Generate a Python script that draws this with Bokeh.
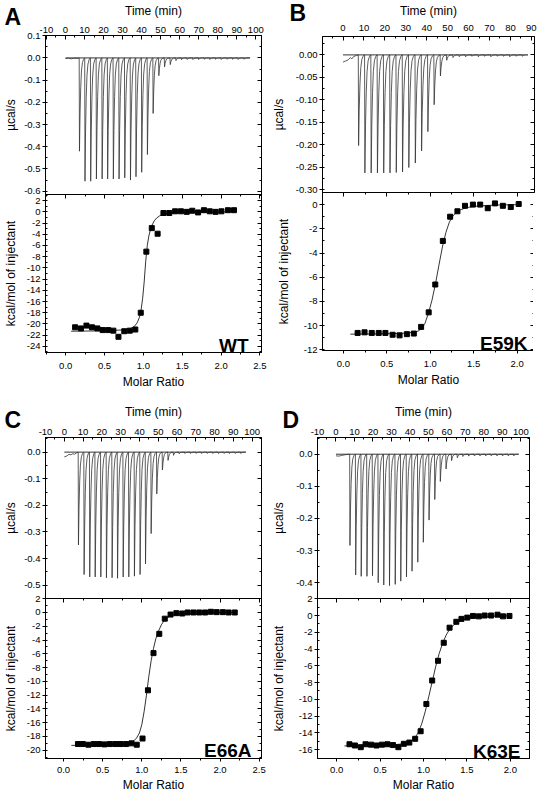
from bokeh.plotting import figure
from bokeh.models import LinearAxis, Range1d, SingleIntervalTicker, PrintfTickFormatter, Label, Title
from bokeh.layouts import column, row
from bokeh.embed import file_html
from bokeh.resources import INLINE

FONT = "Liberation Sans"

# ---------------- data ----------------
# common shape of one injection peak: time offsets (min) and fraction of the peak depth
SPIKE_DT = [0.0, 0.15, 0.45, 0.8, 1.2, 1.7, 2.3, 2.9]
SPIKE_FRAC = [0.0, 1.0, 0.6, 0.32, 0.14, 0.05, 0.015, 0.0]

# Panel A  (WT)
A_pre_time = [0.0, 1.5, 3.0, 4.5, 6.0]
A_pre_power = [-0.003, -0.001, -0.004, -0.001, -0.002]
A_inj_time = [7.2, 10.1, 13.1, 16.1, 19.1, 22.0, 25.0, 28.0, 31.0, 34.0, 36.9, 39.9, 42.9, 45.9, 48.9,
              51.9, 54.9, 57.9, 60.8, 63.8, 66.8, 69.8, 72.8, 75.7, 78.7, 81.7, 84.7, 87.7, 90.6, 93.6]
A_inj_peak = [-0.42, -0.555, -0.555, -0.545, -0.545, -0.545, -0.545, -0.545, -0.54, -0.55, -0.535, -0.515,
              -0.435, -0.25, -0.08, -0.04, -0.03, -0.012, -0.008, -0.007, -0.007, -0.007, -0.006, -0.007,
              -0.006, -0.007, -0.006, -0.006, -0.007, -0.006]
A_end_time = 97.0
A_ratio = [0.121, 0.196, 0.267, 0.338, 0.408, 0.475, 0.546, 0.613, 0.679, 0.754, 0.825, 0.896, 0.966, 1.038,
           1.108, 1.183, 1.258, 1.333, 1.408, 1.483, 1.558, 1.629, 1.704, 1.779, 1.854, 1.929, 2.004, 2.088, 2.166]
A_heat = [-20.6, -20.8, -20.3, -20.6, -20.8, -21.1, -21.1, -21.2, -22.3, -21.3, -21.2, -21.0, -18.0, -7.1,
          -2.9, -3.9, -0.2, -0.2, 0.1, 0.1, 0.0, 0.2, -0.1, 0.3, 0.1, 0.0, 0.1, 0.3, 0.3]
A_fit_ratio = [0.07, 0.4, 0.7, 0.82, 0.88, 0.92, 0.95, 0.97, 0.99, 1.01, 1.03, 1.05, 1.07, 1.09, 1.11, 1.14,
               1.17, 1.21, 1.25, 1.35, 1.5, 1.8, 2.17]
A_fit_heat = [-21.3, -21.25, -21.1, -20.9, -20.5, -19.8, -18.8, -17.5, -15.5, -12.5, -8.8, -6.0, -4.3, -3.2,
              -2.4, -1.6, -1.1, -0.7, -0.45, -0.22, -0.1, -0.03, 0.0]

# Panel B  (E59K)
B_pre_time = [0.0, 1.5, 2.5, 3.5, 4.2, 5.0, 6.5]
B_pre_power = [-0.016, -0.013, -0.011, -0.006, -0.009, -0.004, -0.001]
B_inj_time = [7.3, 10.3, 13.3, 16.3, 19.3, 22.3, 25.3, 28.3, 31.3, 34.4, 37.4, 40.4, 43.4, 46.4, 49.4, 52.4,
              55.4, 58.4, 61.4, 64.5, 67.5, 70.5, 73.5, 76.5, 79.5, 82.5, 85.5]
B_inj_peak = [-0.202, -0.263, -0.263, -0.263, -0.263, -0.263, -0.262, -0.261, -0.251, -0.241, -0.214, -0.171,
              -0.111, -0.047, -0.012, -0.006, -0.004, -0.004, -0.003, -0.004, -0.003, -0.004, -0.003, -0.003,
              -0.004, -0.003, -0.003]
B_end_time = 87.0
B_ratio = [0.164, 0.244, 0.327, 0.407, 0.484, 0.567, 0.647, 0.731, 0.811, 0.895, 0.982, 1.058, 1.145, 1.229,
           1.313, 1.4, 1.491, 1.575, 1.662, 1.745, 1.836, 1.927, 2.018]
B_heat = [-10.6, -10.55, -10.6, -10.6, -10.6, -10.75, -10.8, -10.7, -10.65, -10.1, -8.9, -6.6, -3.0, -1.0,
          -0.55, -0.1, 0.0, 0.0, -0.3, 0.1, -0.1, -0.2, 0.05]
B_fit_ratio = [0.08, 0.4, 0.7, 0.8, 0.86, 0.9, 0.94, 0.98, 1.02, 1.06, 1.1, 1.14, 1.18, 1.22, 1.26, 1.3, 1.35,
               1.42, 1.5, 1.65, 1.8, 2.05]
B_fit_heat = [-10.7, -10.68, -10.62, -10.55, -10.45, -10.25, -9.8, -8.95, -7.9, -6.55, -5.0, -3.5, -2.3, -1.45,
              -0.95, -0.65, -0.42, -0.25, -0.15, -0.07, -0.03, 0.0]

# Panel C  (E66A)
C_pre_time = [0.0, 1.5, 2.5, 3.5, 4.5, 5.5, 6.5]
C_pre_power = [-0.018, -0.014, -0.008, -0.01, -0.006, -0.008, -0.003]
C_inj_time = [7.4, 10.4, 13.4, 16.3, 19.3, 22.3, 25.3, 28.2, 31.2, 34.2, 37.2, 40.2, 43.1, 46.1, 49.1, 52.1,
              55.1, 58.0, 61.0, 64.0, 67.0, 70.0, 72.9, 75.9, 78.9, 81.9, 84.9, 87.8, 90.8, 93.8]
C_inj_peak = [-0.349, -0.46, -0.469, -0.469, -0.469, -0.472, -0.472, -0.474, -0.469, -0.469, -0.466, -0.46,
              -0.42, -0.306, -0.157, -0.067, -0.031, -0.012, -0.006, -0.005, -0.005, -0.005, -0.005, -0.005,
              -0.005, -0.005, -0.005, -0.005, -0.005, -0.005]
C_end_time = 96.5
C_ratio = [0.185, 0.247, 0.318, 0.387, 0.453, 0.523, 0.593, 0.664, 0.729, 0.8, 0.869, 0.936, 1.01, 1.079,
           1.15, 1.224, 1.294, 1.368, 1.442, 1.517, 1.586, 1.66, 1.734, 1.809, 1.883, 1.957, 2.036, 2.11, 2.188]
C_heat = [-19.1, -19.1, -19.2, -19.1, -19.1, -19.15, -19.1, -19.1, -19.1, -19.1, -19.0, -19.2, -18.3, -11.3,
          -5.9, -3.1, -0.9, -0.3, -0.1, -0.15, 0.0, 0.0, 0.0, 0.0, 0.1, 0.05, 0.05, 0.0, 0.0]
C_fit_ratio = [0.1, 0.5, 0.8, 0.88, 0.93, 0.97, 1.0, 1.03, 1.06, 1.09, 1.12, 1.15, 1.18, 1.21, 1.25, 1.29,
               1.34, 1.42, 1.55, 1.8, 2.2]
C_fit_heat = [-19.3, -19.25, -19.1, -18.8, -18.3, -17.5, -16.3, -14.4, -12.0, -9.3, -7.0, -5.2, -3.8, -2.8,
              -1.8, -1.1, -0.65, -0.3, -0.12, -0.03, 0.0]

# Panel D  (K63E)
D_pre_time = [0.0, 1.5, 3.0, 4.5, 6.0]
D_pre_power = [-0.005, -0.006, -0.004, -0.002, -0.001]
D_inj_time = [7.4, 10.5, 13.5, 16.6, 19.6, 22.7, 25.7, 28.8, 31.9, 34.9, 38.0, 41.0, 44.1, 47.1, 50.2, 53.3,
              56.3, 59.4, 62.4, 65.5, 68.5, 71.6, 74.7, 77.7, 80.8, 83.8, 86.9, 89.9, 93.0, 96.0]
D_inj_peak = [-0.284, -0.376, -0.38, -0.38, -0.378, -0.4, -0.407, -0.409, -0.405, -0.395, -0.382, -0.364,
              -0.336, -0.274, -0.205, -0.141, -0.085, -0.046, -0.02, -0.011, -0.007, -0.006, -0.005, -0.005,
              -0.005, -0.005, -0.005, -0.005, -0.005, -0.005]
D_end_time = 98.5
D_ratio = [0.148, 0.211, 0.278, 0.333, 0.396, 0.459, 0.522, 0.585, 0.648, 0.711, 0.774, 0.837, 0.904, 0.967,
           1.033, 1.1, 1.167, 1.233, 1.3, 1.378, 1.437, 1.504, 1.57, 1.637, 1.704, 1.778, 1.852, 1.915, 1.989]
D_heat = [-15.35, -15.5, -15.7, -15.35, -15.4, -15.5, -15.4, -15.35, -15.45, -15.7, -15.3, -15.15, -14.7,
          -13.8, -10.55, -7.75, -5.4, -3.25, -1.45, -0.75, -0.4, -0.25, -0.05, -0.1, 0.0, 0.0, 0.1, -0.1, -0.05]
D_fit_ratio = [0.09, 0.4, 0.6, 0.72, 0.8, 0.86, 0.9, 0.94, 0.98, 1.02, 1.06, 1.1, 1.14, 1.18, 1.22, 1.26, 1.3,
               1.35, 1.42, 1.5, 1.6, 1.75, 2.0]
D_fit_heat = [-15.55, -15.5, -15.45, -15.35, -15.2, -14.95, -14.6, -13.95, -12.9, -11.45, -9.7, -7.9, -6.1,
              -4.55, -3.3, -2.35, -1.65, -1.1, -0.65, -0.38, -0.2, -0.08, -0.02]

PANEL_LETTERS = ["A", "B", "C", "D"]
MUTANTS = ["WT", "E59K", "E66A", "K63E"]

OVERLAP = 7  # px of border kept between the stacked top / bottom frames (overlapped away)


# ---------------- helpers ----------------
def raw_trace(pre_t, pre_y, inj_t, inj_peak, end_t):
    t = list(pre_t)
    y = list(pre_y)
    for ti, hi in zip(inj_t, inj_peak):
        for dt, f in zip(SPIKE_DT, SPIKE_FRAC):
            t.append(ti + dt)
            y.append(hi * f)
    t.append(end_t)
    y.append(0.0)
    return t, y


def style_axis(ax, labels=True, tick_in=0, tick_out=3, minor_in=0, minor_out=2,
               label_standoff=2, axis_label=None, axis_label_standoff=4):
    ax.axis_line_color = "black"
    ax.axis_line_width = 1
    ax.major_tick_line_color = "black"
    ax.minor_tick_line_color = "black"
    ax.major_tick_in = tick_in
    ax.major_tick_out = tick_out
    ax.minor_tick_in = minor_in
    ax.minor_tick_out = minor_out
    ax.major_label_text_font = FONT
    if labels:
        ax.major_label_text_color = "black"
        ax.major_label_text_font_size = "9.5px"
        ax.major_label_standoff = label_standoff
    else:
        ax.major_label_text_color = None
        ax.major_label_text_font_size = "0px"
        ax.major_label_standoff = 0
    if axis_label is not None:
        ax.axis_label = axis_label
        ax.axis_label_text_font = FONT
        ax.axis_label_text_font_size = "12px"
        ax.axis_label_text_font_style = "normal"
        ax.axis_label_text_color = "black"
        ax.axis_label_standoff = axis_label_standoff


def base_fig(xr, yr, fw, fh, mb_top, mb_bottom, mb_left, mb_right, x_loc):
    p = figure(x_range=Range1d(*xr), y_range=Range1d(*yr), x_axis_location=x_loc,
               frame_width=fw, frame_height=fh,
               min_border_top=mb_top, min_border_bottom=mb_bottom,
               min_border_left=mb_left, min_border_right=mb_right,
               toolbar_location=None, tools="", output_backend="svg")
    p.grid.visible = False
    p.outline_line_color = "black"
    p.outline_line_width = 1
    p.outline_line_alpha = 1
    p.background_fill_color = None
    p.border_fill_color = None
    return p


def top_panel(xr, yr, ytick, yfmt, fw, fh, mb_top, mb_left, mb_right,
              tick_sd, time_sd, ylab_sd, trace, end_t, letter, letter_offset, letter_standoff):
    p = base_fig(xr, yr, fw, fh, mb_top, OVERLAP, mb_left, mb_right, "above")
    xa = p.xaxis[0]
    xa.ticker = SingleIntervalTicker(interval=10, num_minor_ticks=2)
    xa.formatter = PrintfTickFormatter(format="%d")
    style_axis(xa, labels=True, tick_in=4, tick_out=0, minor_in=2, minor_out=0,
               label_standoff=tick_sd, axis_label="Time (min)", axis_label_standoff=time_sd)
    ya = p.yaxis[0]
    ya.ticker = SingleIntervalTicker(interval=ytick, num_minor_ticks=2)
    ya.formatter = PrintfTickFormatter(format=yfmt)
    style_axis(ya, labels=True, tick_in=0, tick_out=3, minor_in=2, minor_out=0,
               label_standoff=2, axis_label="µcal/s", axis_label_standoff=ylab_sd)
    ra = LinearAxis(ticker=SingleIntervalTicker(interval=ytick, num_minor_ticks=2))
    style_axis(ra, labels=False, tick_in=4, tick_out=0, minor_in=2, minor_out=0)
    p.add_layout(ra, "right")
    # baseline and raw power trace
    p.line([0.0, end_t], [0.0, 0.0], line_color="black", line_width=0.8)
    p.line(trace[0], trace[1], line_color="#333333", line_width=0.8)
    # panel letter, drawn as a title in the space above the time axis
    p.add_layout(Title(text=letter, align="left", vertical_align="bottom", offset=letter_offset,
                       standoff=letter_standoff, text_font=FONT, text_font_size="23px",
                       text_font_style="bold", text_color="black"), "above")
    return p


def bottom_panel(xr, yr, fw, fh, mb_bottom, mb_left, mb_right, ylab_sd, tick_sd, lab_sd,
                 ratio, heat, fit_r, fit_h, name, name_dx, name_dy):
    p = base_fig(xr, yr, fw, fh, OVERLAP, mb_bottom, mb_left, mb_right, "below")
    p.margin = (-2 * OVERLAP, 0, 0, 0)
    xa = p.xaxis[0]
    xa.ticker = SingleIntervalTicker(interval=0.5, num_minor_ticks=2)
    xa.formatter = PrintfTickFormatter(format="%.1f")
    style_axis(xa, labels=True, tick_in=0, tick_out=3, minor_in=0, minor_out=2,
               label_standoff=tick_sd, axis_label="Molar Ratio", axis_label_standoff=lab_sd)
    ya = p.yaxis[0]
    ya.ticker = SingleIntervalTicker(interval=2, num_minor_ticks=2)
    ya.formatter = PrintfTickFormatter(format="%d")
    style_axis(ya, labels=True, tick_in=0, tick_out=3, minor_in=2, minor_out=0,
               label_standoff=2, axis_label="kcal/mol of injectant", axis_label_standoff=ylab_sd)
    ra = LinearAxis(ticker=SingleIntervalTicker(interval=2, num_minor_ticks=2))
    style_axis(ra, labels=False, tick_in=4, tick_out=0, minor_in=2, minor_out=0)
    p.add_layout(ra, "right")
    ta = LinearAxis(ticker=SingleIntervalTicker(interval=0.5, num_minor_ticks=2))
    style_axis(ta, labels=False, tick_in=4, tick_out=0, minor_in=2, minor_out=0)
    p.add_layout(ta, "above")
    p.line(fit_r, fit_h, line_color="black", line_width=0.8)
    p.scatter(ratio, heat, marker="square", size=5, color="black")
    p.add_layout(Label(x=fw - name_dx, y=name_dy, x_units="screen", y_units="screen",
                       text=name, text_font=FONT, text_font_size="19px",
                       text_font_style="bold", text_color="black",
                       text_baseline="alphabetic", text_align="right"))
    return p


# ---------------- panels ----------------
a_top = top_panel((-10.5, 103), (-0.615, 0.101), 0.1, "%.1f", 216, 159, 33, 41, 7, 3, 6, 3,
                  raw_trace(A_pre_time, A_pre_power, A_inj_time, A_inj_peak, A_end_time), A_end_time,
                  PANEL_LETTERS[0], -41, -58)
a_bot = bottom_panel((-0.26, 2.52), (-25.1, 3.1), 216, 158, 34, 41, 7, 6, 7, 3,
                     A_ratio, A_heat, A_fit_ratio, A_fit_heat, MUTANTS[0], 13, 7)

b_top = top_panel((-9.8, 91.5), (-0.3066, 0.041), 0.05, "%.2f", 212, 156, 36, 48, 4, 6, 4, 7,
                  raw_trace(B_pre_time, B_pre_power, B_inj_time, B_inj_peak, B_end_time), B_end_time,
                  PANEL_LETTERS[1], -33, -51)
b_bot = bottom_panel((-0.24, 2.2), (-12.05, 1.0), 212, 158, 34, 48, 4, 10, 7, 3,
                     B_ratio, B_heat, B_fit_ratio, B_fit_heat, MUTANTS[1], 7, 7)

c_top = top_panel((-10.0, 105.0), (-0.55, 0.055), 0.1, "%.1f", 216, 161, 46, 41, 7, 3, 7, 3,
                  raw_trace(C_pre_time, C_pre_power, C_inj_time, C_inj_peak, C_end_time), C_end_time,
                  PANEL_LETTERS[2], -41, -62)
c_bot = bottom_panel((-0.23, 2.53), (-21.2, 2.03), 216, 160, 31, 41, 7, 6, 5, 2,
                     C_ratio, C_heat, C_fit_ratio, C_fit_heat, MUTANTS[2], 10, 8)

d_top = top_panel((-10.0, 104.7), (-0.449, 0.052), 0.1, "%.1f", 212, 161, 46, 48, 4, 3, 7, 7,
                  raw_trace(D_pre_time, D_pre_power, D_inj_time, D_inj_peak, D_end_time), D_end_time,
                  PANEL_LETTERS[3], -35, -62)
d_bot = bottom_panel((-0.22, 2.22), (-17.05, 2.03), 212, 160, 31, 48, 4, 10, 5, 2,
                     D_ratio, D_heat, D_fit_ratio, D_fit_heat, MUTANTS[3], 9, 7)

layout = column(row(column(a_top, a_bot), column(b_top, b_bot)),
                row(column(c_top, c_bot), column(d_top, d_bot)))

open("out.html", "w").write(file_html(layout, INLINE))
